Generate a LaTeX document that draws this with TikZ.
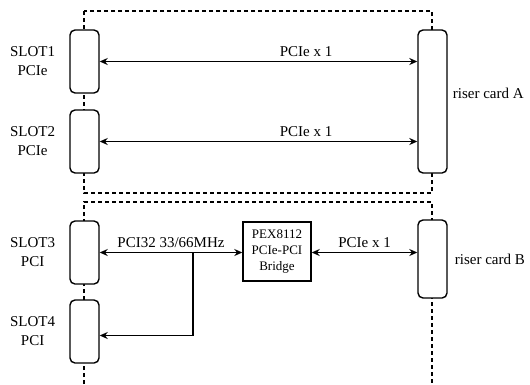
\documentclass[tikz,border=0pt]{standalone}
\usepackage{fontspec}
\setmainfont{Liberation Serif}
\usetikzlibrary{arrows.meta,positioning}

\tikzset{
  slot/.style={draw, fill=white, line width=1.4pt, rounded corners=5pt,
    minimum width=29pt, minimum height=63pt, inner sep=0pt},
  bridgebox/.style={draw, fill=white, line width=1.4pt, minimum width=68pt,
    minimum height=59pt, align=center, inner sep=2pt,
    font=\fontsize{13}{16}\selectfont},
  frame/.style={dashed, dash pattern=on 4pt off 3pt, line width=1.3pt},
  link/.style={line width=1.4pt, {Stealth[length=8pt,width=7pt]}-{Stealth[length=8pt,width=7pt]}},
  onelink/.style={line width=1.4pt, -{Stealth[length=8pt,width=7pt]}},
  lbl/.style={align=center, inner sep=2pt}
}

\begin{document}
\begin{tikzpicture}[x=1pt, y=-1pt, font=\fontsize{15}{19}\selectfont]
    \useasboundingbox (0,0) rectangle (530,384);
    % dashed outlines of the riser cards
    \draw[frame] (84,11) rectangle (432,193);
    \draw[frame] (84,384) -- (84,202) -- (432,202) -- (432,384);

    \node[slot] (slot1) at (84.5,61.5) {};
    \node[slot] (slot2) at (84.5,141.5) {};
    \node[slot] (slot3) at (84.5,252.5) {};
    \node[slot] (slot4) at (84.5,331.5) {};
    \node[slot, minimum height=143pt] (riserA) at (432.5,101.5) {};
    \node[slot, minimum height=78pt] (riserB) at (432.5,259) {};
    \node[bridgebox] (bridge) at (277,251.5) {PEX8112\\PCIe-PCI\\Bridge};

    \node[lbl, left=12pt of slot1] {SLOT1\\PCIe};
    \node[lbl, left=12pt of slot2] {SLOT2\\PCIe};
    \node[lbl, left=12pt of slot3] {SLOT3\\PCI};
    \node[lbl, left=12pt of slot4] {SLOT4\\PCI};
    \node[lbl, right=3pt of riserA, yshift=8pt] {riser card A};
    \node[lbl, right=5pt of riserB] {riser card B};

    \draw[link] (slot1.east) -- node[pos=0.65, above=1pt] {PCIe x 1} (slot1.east -| riserA.west);
    \draw[link] (slot2.east) -- node[pos=0.65, above=1pt] {PCIe x 1} (slot2.east -| riserA.west);
    \draw[link] (slot3.east) -- node[above=1pt] {PCI32 33/66MHz} (slot3.east -| bridge.west);
    \draw[link] (slot3.east -| bridge.east) -- node[above=1pt] {PCIe x 1} (slot3.east -| riserB.west);

    \coordinate (tap) at (193,252.5);
    \draw[onelink] (tap) |- ([yshift=-4pt]slot4.east);
\end{tikzpicture}
\end{document}
